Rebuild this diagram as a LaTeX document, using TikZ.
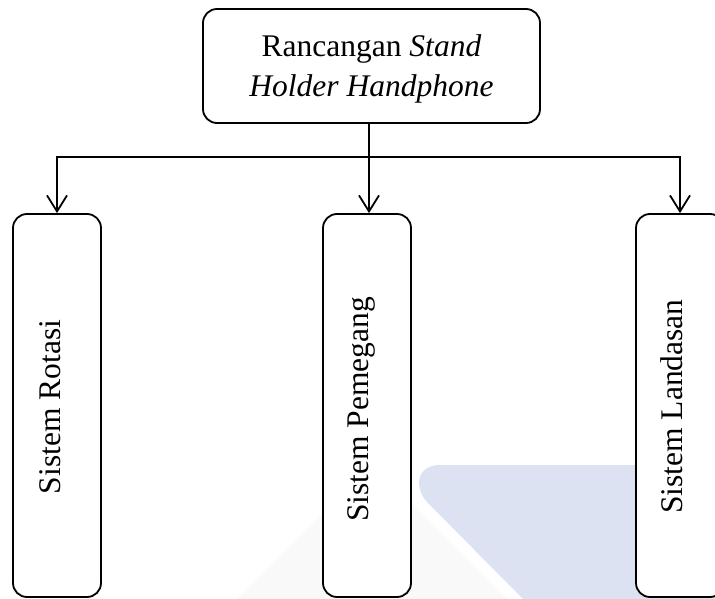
\documentclass[tikz,border=0pt]{standalone}
\usepackage{fontspec}
\setmainfont{Liberation Serif}
\usetikzlibrary{arrows.meta}
\definecolor{wmblue}{RGB}{220,226,242}
\definecolor{wmgray}{RGB}{249,249,249}
\begin{document}
\begin{tikzpicture}[x=1pt,y=-1pt,
  box/.style={draw=black, fill=white, line width=1.8pt, rounded corners=14pt, inner sep=0pt},
  sidebox/.style={box, minimum width=88pt, minimum height=383pt},
  conn/.style={line width=1.8pt},
  barb/.tip={Straight Barb[length=16pt,width=20pt]},
  arr/.style={conn, -barb},
  lbl/.style={font=\fontsize{31.5}{40}\selectfont, inner sep=0pt},
  vlbl/.style={lbl, rotate=90, anchor=base}]
\useasboundingbox (0,0) rectangle (715,599);
\clip (0,0) rectangle (715,599);
% faint watermark
\fill[wmgray] (237,599) -- (372,464) -- (507,599) -- cycle;
\fill[wmblue] (523,599) -- (427,502) .. controls (414,488) and (416,465) .. (440,465) -- (715,465) -- (715,599) -- cycle;
% boxes
\node[box, minimum width=337pt, minimum height=114pt] (top) at (371.5,66) {};
\node[lbl, align=center] (toptext) at (371.5,68.5) {Rancangan \textit{Stand}\\ \textit{Holder Handphone}};
\node[sidebox] (rot) at (57,405.5) {};
\node[sidebox] (pem) at (367,405.5) {};
\node[sidebox] (lan) at (680,405.5) {};
\node[vlbl] (trot) at (60,407) {Sistem Rotasi};
\node[vlbl] (tpem) at (368,409.5) {Sistem Pemegang};
\node[vlbl] (tlan) at (682,406.5) {Sistem Landasan};
% connectors
\coordinate (j) at (369,157);
\draw[conn] (top.south -| j) -- (j);
\draw[conn, barb-barb] (rot.north) -- (rot.north |- j) -- (lan.north |- j) -- (lan.north);
\draw[arr] (j) -- (pem.north -| j);
\end{tikzpicture}
\end{document}
